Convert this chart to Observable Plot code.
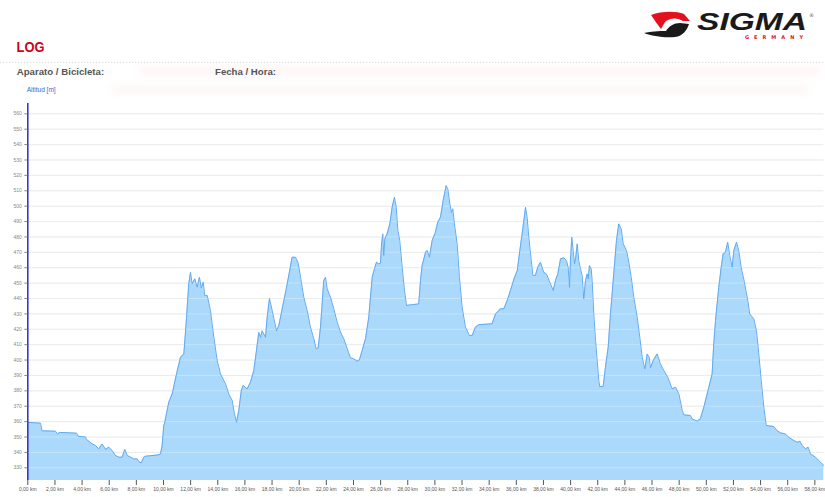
<!DOCTYPE html>
<html><head><meta charset="utf-8">
<script src="https://cdn.jsdelivr.net/npm/d3@7"></script>
<script src="https://cdn.jsdelivr.net/npm/@observablehq/plot@0.6"></script>
<style>
body{margin:0;background:#fff;width:825px;height:497px;overflow:hidden;font-family:"Liberation Sans",Arial,sans-serif;}
#header{display:block;}
#chart svg{display:block;}
</style></head><body>
<svg id="header" width="825" height="98" xmlns="http://www.w3.org/2000/svg">
  <defs><filter id="bl"><feGaussianBlur stdDeviation="4"/></filter></defs>
  <g filter="url(#bl)" opacity="0.08">
    <rect x="140" y="66" width="680" height="10" fill="#e88"/>
    <rect x="110" y="86" width="700" height="8" fill="#e88"/>
  </g>
  <path d="M651,15 C662,11 676,11 684,14 L690,21 L683,21 C677,17 669,18 665,22 L661,29 C657,24 654,19 651,15 Z" fill="#e3101e"/>
  <path d="M644,33 C655,31 662,31 666,31 C669,26 674,23 680,23 L689,24 C687,30 683,36 675,37 C664,38 652,36 644,33 Z" fill="#1a1a1a"/>
  <text x="697" y="30" font-family="Liberation Sans" font-weight="bold" font-style="italic" font-size="23" textLength="110" lengthAdjust="spacingAndGlyphs" fill="#1a1a1a">SIGMA</text>
  <text x="809" y="17" font-family="DejaVu Sans" font-size="5" fill="#555">®</text>
  <text x="745" y="38.5" font-family="DejaVu Sans" font-weight="bold" font-size="5" textLength="58" lengthAdjust="spacing" fill="#e3101e">GERMANY</text>
  <text x="16.5" y="51.7" font-family="Liberation Sans" font-weight="bold" font-size="14" fill="#d0021b" textLength="28" lengthAdjust="spacingAndGlyphs">LOG</text>
  <line x1="0" y1="62.3" x2="825" y2="62.3" stroke="#cfd8d4" stroke-width="1" stroke-dasharray="1.2,1.8"/>
  <text x="16.7" y="75" font-family="Liberation Sans" font-weight="bold" font-size="9.5" fill="#555" textLength="87.5" lengthAdjust="spacingAndGlyphs">Aparato / Bicicleta:</text>
  <text x="215" y="75" font-family="Liberation Sans" font-weight="bold" font-size="9.5" fill="#555" textLength="61" lengthAdjust="spacingAndGlyphs">Fecha / Hora:</text>
  <text x="26.7" y="92.3" font-family="Liberation Sans" font-size="6.4" fill="#2a6fd6" textLength="29" lengthAdjust="spacingAndGlyphs">Altitud [m]</text>
</svg>
<div id="chart"></div>
<script>
// Distance along the route (km)
const distanceKm = [
  0, 0.94, 1.05, 2.04, 2.19, 2.34, 3.6, 3.7, 4.25, 4.33, 4.74, 4.99, 5.23, 5.48, 5.73, 5.97, 6.22, 6.46, 6.71, 6.96, 7.15, 7.33, 7.57, 7.81, 8.06, 8.18, 8.36, 8.55, 8.67,
  9.65, 9.78, 9.9, 10.02, 10.07, 10.39, 10.64, 10.96, 11.25, 11.5, 11.7, 11.86, 11.99, 12.11, 12.31, 12.48, 12.65, 12.78, 12.93, 13.04, 13.22, 13.46, 13.71, 13.96, 14.2, 14.57, 14.81, 15.06, 15.23, 15.38, 15.55, 15.73, 15.87, 16.17, 16.41, 16.65, 16.85, 17.02, 17.15, 17.27, 17.52, 17.64, 17.81, 18.01, 18.33, 18.5, 18.87, 19.12, 19.48, 19.73, 19.93,
  20.1, 20.34, 20.59, 20.83, 21.08, 21.25, 21.4, 21.57, 21.69, 21.81, 21.94, 22.06, 22.31, 22.55, 22.8, 23.04, 23.29, 23.54, 23.78, 24.02, 24.27, 24.44, 24.64, 24.89, 25.13, 25.38, 25.55, 25.7, 25.87, 25.99, 26.07, 26.16, 26.23, 26.31, 26.48, 26.68, 26.85, 27.02, 27.15, 27.27, 27.41, 27.59, 27.76, 27.91, 28.33, 28.81, 28.94, 29.06, 29.31, 29.43, 29.6, 29.8,
  30.04, 30.21, 30.41, 30.61, 30.83, 30.95, 31.1, 31.22, 31.32, 31.44, 31.64, 31.81, 32.01, 32.25, 32.55, 32.75, 32.99, 33.24, 34.22, 34.47, 34.84, 35.08, 35.33, 35.57, 35.87, 36.07, 36.26, 36.43, 36.68, 36.8, 36.92, 37.05, 37.22, 37.41, 37.58, 37.78, 38.02, 38.22, 38.47, 38.72, 38.89, 39.06, 39.26, 39.5, 39.7, 39.82, 39.92, 39.99,
  40.09, 40.19, 40.29, 40.38, 40.49, 40.6, 40.73, 40.85, 40.97, 41.1, 41.22, 41.3, 41.39, 41.52, 41.59, 41.71, 41.84, 41.96, 42.08, 42.15, 42.4, 42.57, 42.77, 42.94, 43.18, 43.38, 43.55, 43.73, 43.88, 44.12, 44.29, 44.47, 44.66, 44.91, 45.1, 45.28, 45.47, 45.65, 45.79, 45.89, 46.09, 46.38, 46.62, 46.87, 47.16, 47.49, 47.73, 47.98, 48.23, 48.35, 48.83, 48.96, 49.33, 49.57, 49.82,
  50.19, 50.43, 50.55, 50.68, 50.8, 50.92, 51.1, 51.24, 51.41, 51.58, 51.73, 51.91, 52.03, 52.23, 52.39, 52.57, 52.81, 53.06, 53.2, 53.5, 53.7, 53.87, 54.05, 54.24, 54.42, 54.97, 55.22, 55.46, 55.83, 56.08, 56.45, 56.71, 56.9, 57.07, 57.32, 57.51, 57.68, 58.05, 58.29, 58.66
];
// Altitude (m)
const altitudeM = [
  359.5, 359, 354, 353.8, 352, 353, 352.5, 350.5, 350, 348.4, 345.6, 344.5, 342.3, 345.5, 342, 343.4, 341.2, 338, 336.9, 336.9, 342, 338, 336.9, 335.8, 335.8, 334, 333.2, 336.9, 337.5,
  338.4, 339, 344.5, 357.5, 358.5, 372.6, 378, 391, 401.8, 404, 427.8, 449.5, 457, 449.5, 452.8, 447.3, 453.8, 447, 450.6, 442, 442, 432.2, 414.8, 399.7, 391, 384.6, 378, 373.7, 365, 359.6, 367.2, 380, 383.5, 381.3, 385.6, 393, 406, 418, 414.8, 419, 414.8, 427.8, 440, 432.2, 419, 422.4, 438.6, 449.6, 466.8, 466.8, 463,
  453.8, 440.8, 432.2, 421.4, 413.8, 407.3, 408, 421.4, 436.5, 451.7, 453.8, 446.3, 440.8, 433.3, 424.6, 418.2, 413.8, 407.3, 401.5, 400.8, 399.3, 400.1, 406.2, 414, 428, 453.8, 459.3, 463.6, 462.5, 463, 475.5, 482, 468, 478.8, 482, 488.5, 499.3, 505.8, 499.3, 484.2, 477.7, 460.3, 445.2, 435.5, 436, 436.5, 451.7, 461.4, 470, 471.2, 466.8, 477.7,
  483, 489.6, 492.8, 503.7, 513.4, 511.3, 501.5, 496, 498.3, 488.5, 475.5, 453.8, 434.4, 421.4, 416, 416, 421.4, 423, 423.6, 430, 433.3, 433.3, 438.7, 445.2, 453.8, 458, 471.2, 482, 499.3, 492.8, 479.8, 469, 455, 455, 460.3, 463.6, 457, 456, 450.6, 445.2, 451.7, 456, 465.8, 466.4, 464.7, 460.3, 447.3, 464.7,
  479.8, 471.2, 462.5, 466.8, 475.5, 464.7, 459.3, 455, 439.8, 451.7, 456, 452.8, 461.4, 459.3, 451.7, 430, 412.7, 399.7, 386.7, 382.8, 382.8, 395.4, 408.3, 430, 456, 477.7, 488.5, 485.3, 475.5, 471.2, 463.6, 453.8, 440.8, 427.8, 414.8, 401.8, 394.3, 404, 401.8, 395, 399.7, 404, 397.6, 393.2, 388.9, 381.3, 382.4, 378, 367.2, 364.4, 364, 361.8, 360.3, 361.8, 369.4,
  382.4, 391, 410.5, 425.7, 436.5, 447.3, 460.3, 469, 470, 476.6, 468, 460.3, 471.2, 476.6, 471.2, 460.3, 450.6, 438.6, 430, 426.8, 419, 404, 386.7, 369.4, 357.5, 356.8, 354.2, 352.7, 352, 349.9, 347.7, 346.6, 347.3, 344.5, 342.3, 343.4, 339, 336.9, 334.7, 331.5
];
const yTicks = [330, 340, 350, 360, 370, 380, 390, 400, 410, 420, 430, 440, 450, 460, 470, 480, 490, 500, 510, 520, 530, 540, 550, 560];
const xTicks = [0, 2, 4, 6, 8, 10, 12, 14, 16, 18, 20, 22, 24, 26, 28, 30, 32, 34, 36, 38, 40, 42, 44, 46, 48, 50, 52, 54, 56, 58];

const n = Math.min(distanceKm.length, altitudeM.length);
const profile = d3.range(n).map(i => ({km: distanceKm[i], alt: altitudeM[i]}));
const yMin = 321.75, yMax = 566.7;

const chart = Plot.plot({
  width: 825,
  height: 399,
  marginTop: 5,
  marginBottom: 17,
  marginLeft: 27.3,
  marginRight: 1.7,
  style: {fontFamily: "Liberation Sans, Arial, sans-serif", fontSize: "5px", background: "transparent", overflow: "visible"},
  x: {domain: [0, 58.66]},
  y: {domain: [yMin, yMax]},
  marks: [
    Plot.gridY(yTicks, {stroke: "#e4e4e4", strokeOpacity: 1}),
    Plot.areaY(profile, {x: "km", y1: yMin, y2: "alt", fill: "#aad9fb", fillOpacity: 1}),
    Plot.gridY(yTicks, {stroke: "#ffffff", strokeOpacity: 0.3}),
    Plot.lineY(profile, {x: "km", y: "alt", stroke: "#62aaf0", strokeWidth: 1}),
    Plot.ruleX([0], {stroke: "#3a36c8", strokeWidth: 1.6}),
    Plot.axisX(xTicks, {tickSize: 5, tickPadding: 2, color: "#555", label: null,
      tickFormat: d => d.toFixed(2).replace(".", ",") + " km"}),
    Plot.axisY(yTicks, {tickSize: 3, tickPadding: 3, color: "#888", label: null})
  ]
});
document.getElementById("chart").appendChild(chart);
</script>
</body></html>
